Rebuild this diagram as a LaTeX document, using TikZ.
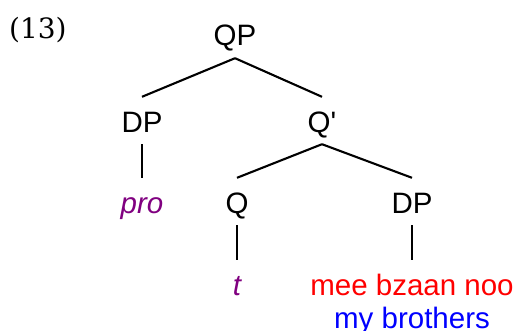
\documentclass[tikz,border=0pt]{standalone}
\usepackage{fontspec}
\setmainfont{Liberation Sans}
\newfontfamily\exfont{DejaVu Serif}
\definecolor{emptycat}{RGB}{128,0,128}
\definecolor{zapotec}{RGB}{255,0,0}
\definecolor{gloss}{RGB}{0,0,255}
\tikzset{
  cat/.style={anchor=base, inner sep=0pt, text height=35pt, text depth=12pt,
    font=\fontsize{29.5}{34}\selectfont},
  word/.style={anchor=base, inner sep=0pt, font=\fontsize{29.5}{34}\selectfont},
  branch/.style={line width=2.1pt},
}
\begin{document}
\begin{tikzpicture}[x=1pt,y=-1pt]
  \useasboundingbox (0,0) rectangle (518,331);
  % example number
  \node[anchor=base west, inner sep=0pt, font=\exfont\fontsize{28}{32}\selectfont] (exno) at (9,39) {(13)};
  % categories
  \node[cat] (qp)  at (235,46)  {QP};
  \node[cat] (dp1) at (142,132) {DP};
  \node[cat] (qb)  at (322,132) {Q\textquotesingle};
  \node[cat, text=emptycat] (pro) at (142,213) {\itshape pro};
  \node[cat] (q)   at (237,213) {Q};
  \node[cat] (dp2) at (412,213) {DP};
  \node[cat, text=emptycat] (t) at (237,295) {\itshape t};
  \node[cat, text=zapotec] (mee) at (412,295) {mee bzaan noo};
  \node[word, text=gloss] (gl) at (412,328) {my brothers};
  % branches
  \draw[branch] (qp.south) -- (dp1.north);
  \draw[branch] (qp.south) -- (qb.north);
  \draw[branch] (dp1.south) -- (pro.north);
  \draw[branch] (qb.south) -- (q.north);
  \draw[branch] (qb.south) -- (dp2.north);
  \draw[branch] (q.south) -- (t.north);
  \draw[branch] (dp2.south) -- (mee.north);
\end{tikzpicture}
\end{document}
